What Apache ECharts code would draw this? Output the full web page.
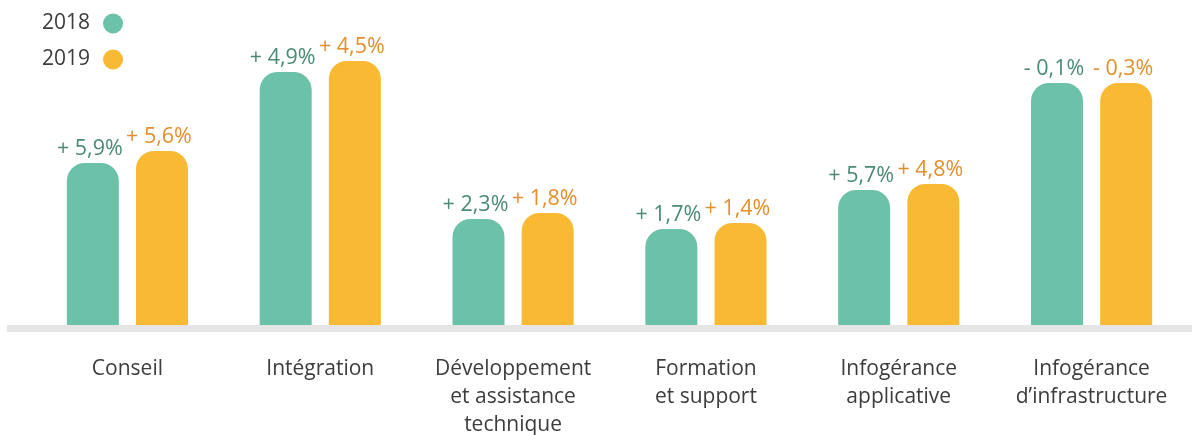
<!DOCTYPE html>
<html>
<head>
<meta charset="utf-8">
<script src="https://cdn.jsdelivr.net/npm/echarts@6/dist/echarts.min.js"></script>
<style>
  html, body { margin: 0; padding: 0; background: #fff; }
  #chart { width: 1192px; height: 435px; }
</style>
</head>
<body>
<div id="chart"></div>
<script>
const categories = [
  "Conseil",
  "Intégration",
  "Développement\net assistance\ntechnique",
  "Formation\net support",
  "Infogérance\napplicative",
  "Infogérance\nd’infrastructure",
];
const years = ["2018", "2019"];
// bar heights (relative size)
const size2018 = [162, 253, 106, 96, 135, 242];
const size2019 = [174, 264, 112, 102, 141, 242];
const growth2018 = ["+ 5,9%", "+ 4,9%", "+ 2,3%", "+ 1,7%", "+ 5,7%", "- 0,1%"];
const growth2019 = ["+ 5,6%", "+ 4,5%", "+ 1,8%", "+ 1,4%", "+ 4,8%", "- 0,3%"];

const FONT = "'Open Sans', 'Noto Sans', sans-serif";

const chart = echarts.init(document.getElementById("chart"));

function barSeries(name, values, growth, color, labelColor) {
  return {
    name,
    type: "bar",
    data: values,
    barWidth: 52,
    barGap: "33%",
    itemStyle: { color, borderRadius: [18, 18, 0, 0] },
    label: {
      show: true,
      position: "top",
      distance: 3,
      offset: [-3, 0],
      color: labelColor,
      fontFamily: FONT,
      fontSize: 21.5,
      formatter: (p) => growth[p.dataIndex],
    },
  };
}

chart.setOption({
  animation: false,
  backgroundColor: "#fff",
  grid: { left: 31, right: 4, top: 55, bottom: 110, outerBoundsMode: "none" },
  legend: {
    data: years,
    orient: "vertical",
    left: 37,
    top: 8,
    align: "right",
    icon: "circle",
    itemWidth: 20,
    itemHeight: 20,
    itemGap: 15,
    textStyle: {
      color: "#3c3c3c",
      fontFamily: FONT,
      fontSize: 21,
      padding: [0, 8, 0, 0],
    },
  },
  xAxis: {
    type: "category",
    data: categories,
    axisLine: { show: false },
    axisTick: { show: false },
    axisLabel: {
      margin: 30,
      color: "#3c3c3c",
      fontFamily: FONT,
      fontSize: 21,
      lineHeight: 28,
      interval: 0,
    },
  },
  yAxis: {
    type: "value",
    min: 0,
    max: 270,
    show: false,
    splitLine: { show: false },
  },
  graphic: [
    {
      type: "rect",
      left: 7,
      top: 325,
      shape: { width: 1185, height: 7 },
      style: { fill: "#e5e5e5" },
      z: 100,
    },
  ],
  series: [
    barSeries(years[0], size2018, growth2018, "#6cc1a9", "#4a8a77"),
    barSeries(years[1], size2019, growth2019, "#f9b933", "#e38f2b"),
  ],
});
</script>
</body>
</html>
